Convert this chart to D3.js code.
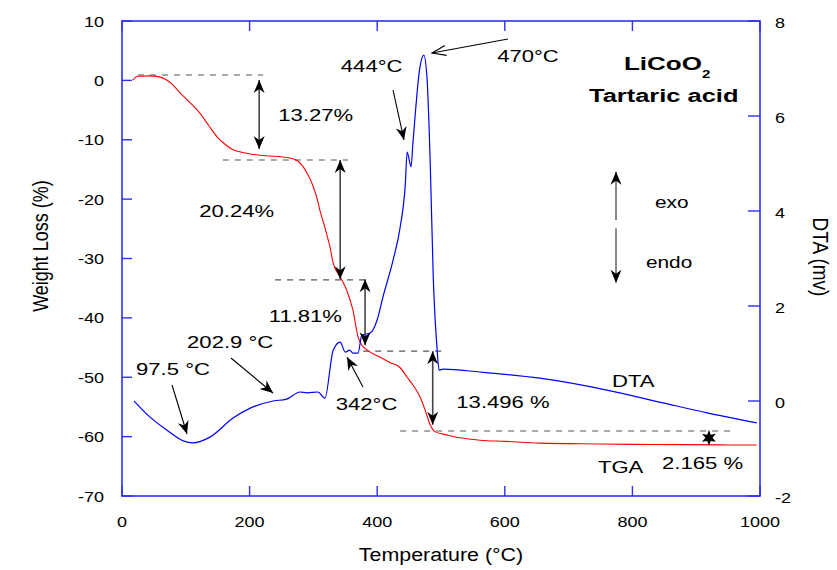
<!DOCTYPE html>
<html>
<head>
<meta charset="utf-8">
<script src="https://cdn.jsdelivr.net/npm/d3@7/dist/d3.min.js"></script>
<style>
  html, body { margin: 0; padding: 0; background: #fff; }
  svg { display: block; font-family: "Liberation Sans", Arial, Helvetica, sans-serif; }
</style>
</head>
<body>
<svg id="chart" width="837" height="570"></svg>
<script>
// ---- Thermogravimetric curve (weight loss %, left axis) ----
const tgaT = [17, 25, 44, 60, 70, 80, 91, 107, 122, 136, 149, 162, 174, 188, 201, 226, 252, 268, 279, 290, 298,
              305, 310, 318, 326, 331, 342, 352, 362, 370, 376, 384, 404, 420, 436, 447, 456, 467, 475, 483, 491,
              509, 530, 561, 600, 655, 720, 800, 880, 950, 995];
const tgaW = [0.05, 0.7, 0.75, 0.55, 0.05, -0.8, -2.1, -3.8, -5.5, -7.6, -9.5, -10.8, -11.7, -12.1, -12.4, -12.7, -12.9, -13.2, -13.9, -15.6, -17.4,
              -19.6, -21.8, -24.8, -28.1, -30.8, -33.1, -35.3, -38.7, -43.2, -44.6, -45.4, -46.6, -47.5, -48.4, -50.0, -51.3, -53.3, -55.5, -58.0, -59.2,
              -59.7, -60.2, -60.6, -60.8, -61.1, -61.2, -61.3, -61.35, -61.4, -61.4];

// ---- Differential thermal curve (mV, right axis) ----
const dtaT = [19, 44, 70, 96, 111, 138, 174, 201, 237, 258, 279, 290, 307, 318, 331, 342, 350, 357, 362, 370,
              376, 389, 400, 409, 425, 436, 444, 447, 453, 456, 467, 473, 478, 483, 488, 494, 497, 503, 561, 655,
              760, 848, 917, 995];
const dtaV = [0.0, -0.34, -0.61, -0.84, -0.88, -0.76, -0.36, -0.15, 0.0, 0.04, 0.19, 0.17, 0.19, 0.06, 1.07, 1.24, 1.03, 1.07, 1.01, 1.01,
              1.39, 1.43, 1.71, 2.19, 2.97, 3.66, 4.55, 5.24, 4.93, 5.43, 7.03, 7.28, 6.82, 5.07, 2.55, 1.07, 0.65, 0.67, 0.61, 0.48,
              0.23, -0.04, -0.25, -0.46];

// ---- Axis ticks ----
const tempTicks = [0, 200, 400, 600, 800, 1000];
const weightTicks = [10, 0, -10, -20, -30, -40, -50, -60, -70];
const dtaTicks = [8, 6, 4, 2, 0, -2];

// ---- Weight-loss steps: plateau levels (dashed) and measured drops ----
const plateauLevels = [0.9, -13.4, -33.6, -45.6, -59.05];
const plateauFrom   = [25, 158, 240, 378, 436];
const plateauTo     = [221, 354, 385, 502, 961];
const stepAt        = [215, 342, 381, 487];
const stepTop       = [0.06, -13.4, -33.5, -45.6];
const stepBottom    = [-11.56, -33.5, -44.6, -58.0];
const stepLabels    = ["13.27%", "20.24%", "11.81%", "13.496 %"];
const stepLabelT    = [245, 121, 230, 524];
const stepLabelW    = [-6.84, -23.0, -40.7, -55.2];

// ---- Peak callouts (text position, arrow tail and tip, in T / weight units) ----
const peakLabels = ["97.5 °C", "202.9 °C", "342°C", "444°C", "470°C"];
const peakLabelT = [22, 102, 335, 343, 588];
const peakLabelW = [-49.6, -45.1, -55.5, 1.41, 3.1];
const peakTailT  = [78.4, 170.8, 377.7, 424.8, 605];
const peakTailW  = [-51.3, -46.76, -51.64, -1.62, 6.97];
const peakTipT   = [101.9, 236.7, 352.7, 442, 485.9];
const peakTipW   = [-59.56, -52.65, -46.59, -10.04, 4.61];

const plot = { left: 122, right: 760, top: 21, bottom: 496 };
const svg = d3.select("#chart");

const x = d3.scaleLinear().domain([0, 1000]).range([plot.left, plot.right]);
const yW = d3.scaleLinear().domain([-70, 10]).range([plot.bottom, plot.top]);
const yD = d3.scaleLinear().domain([-2, 8]).range([plot.bottom, plot.top]);

const SX = 1.3;     // glyph width stretch of annotation text
const axisBlue = "#2f2fff";

// Horizontal text helper with horizontal stretch
function label(px, py, txt, opt = {}) {
  return svg.append("text")
    .attr("transform", `translate(${px},${py}) scale(${opt.sx || SX},1)`)
    .attr("font-size", opt.size || 17)
    .attr("font-weight", opt.weight || "normal")
    .attr("text-anchor", opt.anchor || "start")
    .attr("fill", "#000")
    .text(txt);
}

// Arrowhead markers
const defs = svg.append("defs");
defs.append("marker")
  .attr("id", "barb").attr("markerUnits", "userSpaceOnUse")
  .attr("viewBox", "-14 -7 16 14").attr("refX", 0).attr("refY", 0)
  .attr("markerWidth", 16).attr("markerHeight", 14).attr("orient", "auto-start-reverse")
  .append("path").attr("d", "M0,0 L-13,-5.5 L-9,0 L-13,5.5 Z").attr("fill", "#000");
defs.append("marker")
  .attr("id", "open").attr("markerUnits", "userSpaceOnUse")
  .attr("viewBox", "-16 -8 18 16").attr("refX", 0).attr("refY", 0)
  .attr("markerWidth", 18).attr("markerHeight", 16).attr("orient", "auto")
  .append("path").attr("d", "M-14,-5 L0,0 L-14,5").attr("fill", "none").attr("stroke", "#000").attr("stroke-width", 1.1);

// ---- Frame and ticks ----
const g = svg.append("g");
g.append("rect")
  .attr("x", plot.left).attr("y", plot.top)
  .attr("width", plot.right - plot.left).attr("height", plot.bottom - plot.top)
  .attr("fill", "none").attr("stroke", axisBlue).attr("stroke-width", 1.6);

const TL = 10;
g.selectAll(".tb").data(tempTicks).join("line")
  .attr("x1", d => x(d)).attr("x2", d => x(d))
  .attr("y1", plot.bottom).attr("y2", plot.bottom - TL)
  .attr("stroke", axisBlue).attr("stroke-width", 1.4);
g.selectAll(".tt").data(tempTicks).join("line")
  .attr("x1", d => x(d)).attr("x2", d => x(d))
  .attr("y1", plot.top).attr("y2", plot.top + TL)
  .attr("stroke", axisBlue).attr("stroke-width", 1.4);
g.selectAll(".tl").data(weightTicks).join("line")
  .attr("x1", plot.left).attr("x2", plot.left + TL)
  .attr("y1", d => yW(d)).attr("y2", d => yW(d))
  .attr("stroke", axisBlue).attr("stroke-width", 1.4);
g.selectAll(".tr").data(dtaTicks).join("line")
  .attr("x1", plot.right).attr("x2", plot.right - 12)
  .attr("y1", d => yD(d)).attr("y2", d => yD(d))
  .attr("stroke", axisBlue).attr("stroke-width", 1.4);

// Tick labels
tempTicks.forEach(d => label(x(d), 527, d, { size: 15, sx: 1.2, anchor: "middle" }));
weightTicks.forEach(d => label(104, yW(d) + 5.5, d, { size: 15, sx: 1.2, anchor: "end" }));
dtaTicks.forEach(d => label(775, yD(d) + 6.5, d, { size: 15, sx: 1.2, anchor: "start" }));

// Axis titles
label(x(500), 561, "Temperature (°C)", { size: 18, sx: 1.19, anchor: "middle" });
svg.append("text")
  .attr("transform", "translate(48,246) rotate(-90) scale(1,1.2)")
  .attr("font-size", 18).attr("text-anchor", "middle").text("Weight Loss (%)");
svg.append("text")
  .attr("transform", "translate(813,257) rotate(90) scale(1,1.15)")
  .attr("font-size", 19).attr("text-anchor", "middle").text("DTA (mv)");

// ---- Dashed plateau levels ----
svg.selectAll(".plateau").data(plateauLevels).join("line")
  .attr("x1", (d, i) => x(plateauFrom[i])).attr("x2", (d, i) => x(plateauTo[i]))
  .attr("y1", d => yW(d)).attr("y2", d => yW(d))
  .attr("stroke", "#555").attr("stroke-width", 1.1).attr("stroke-dasharray", "6,6");

// ---- Curves ----
const tgaLine = d3.line().x(d => x(d[0])).y(d => yW(d[1])).curve(d3.curveMonotoneX);
svg.append("path").datum(d3.zip(tgaT, tgaW))
  .attr("d", tgaLine).attr("fill", "none").attr("stroke", "#ff0000").attr("stroke-width", 1.1);

const dtaLine = d3.line().x(d => x(d[0])).y(d => yD(d[1])).curve(d3.curveMonotoneX);
svg.append("path").datum(d3.zip(dtaT, dtaV))
  .attr("d", dtaLine).attr("fill", "none").attr("stroke", "#0000ff").attr("stroke-width", 1.2);

// ---- Step arrows (double headed) and percentages ----
svg.selectAll(".step").data(stepAt).join("line")
  .attr("x1", d => x(d)).attr("x2", d => x(d))
  .attr("y1", (d, i) => yW(stepTop[i])).attr("y2", (d, i) => yW(stepBottom[i]))
  .attr("stroke", "#444").attr("stroke-width", 1.6)
  .attr("marker-start", "url(#barb)").attr("marker-end", "url(#barb)");
stepLabels.forEach((s, i) => label(x(stepLabelT[i]), yW(stepLabelW[i]), s));

// ---- Peak callouts ----
peakLabels.forEach((s, i) => {
  label(x(peakLabelT[i]), yW(peakLabelW[i]), s);
  svg.append("line")
    .attr("x1", x(peakTailT[i])).attr("y1", yW(peakTailW[i]))
    .attr("x2", x(peakTipT[i])).attr("y2", yW(peakTipW[i]))
    .attr("stroke", "#000").attr("stroke-width", 1.1)
    .attr("marker-end", i === 4 ? "url(#open)" : "url(#barb)");
});

// ---- Sample name ----
const title = svg.append("text")
  .attr("transform", `translate(${x(786.8)},${yW(1.75)}) scale(1.37,1)`)
  .attr("font-size", 19).attr("font-weight", "bold");
title.append("tspan").text("LiCoO");
title.append("tspan").attr("font-size", 11).attr("dy", 8).text("2");
label(x(732), yW(-3.64), "Tartaric acid", { size: 19, weight: "bold", sx: 1.34 });

// ---- exo / endo direction key ----
svg.append("line")
  .attr("x1", x(774.3)).attr("x2", x(774.3)).attr("y1", yW(-23.5)).attr("y2", yW(-15.4))
  .attr("stroke", "#555").attr("stroke-width", 1.4).attr("marker-end", "url(#barb)");
svg.append("line")
  .attr("x1", x(774.3)).attr("x2", x(774.3)).attr("y1", yW(-24.9)).attr("y2", yW(-34.1))
  .attr("stroke", "#555").attr("stroke-width", 1.4).attr("marker-end", "url(#barb)");
label(x(835.4), yW(-21.5), "exo", { size: 16 });
label(x(821.3), yW(-31.6), "endo", { size: 16 });

// ---- Curve names and residual loss ----
label(x(768), yW(-51.6), "DTA");
label(x(746), yW(-66.1), "TGA");
label(x(846.4), yW(-65.5), "2.165 %");

// Six-pointed star marking the final residual
const starPts = d3.range(12).map(i => [i * Math.PI / 6, i % 2 === 0 ? 8 : 3.6]);
svg.append("path")
  .attr("d", d3.lineRadial().curve(d3.curveLinearClosed)(starPts))
  .attr("transform", `translate(${x(920)},${yW(-60.2)})`)
  .attr("fill", "#000");
</script>
</body>
</html>
